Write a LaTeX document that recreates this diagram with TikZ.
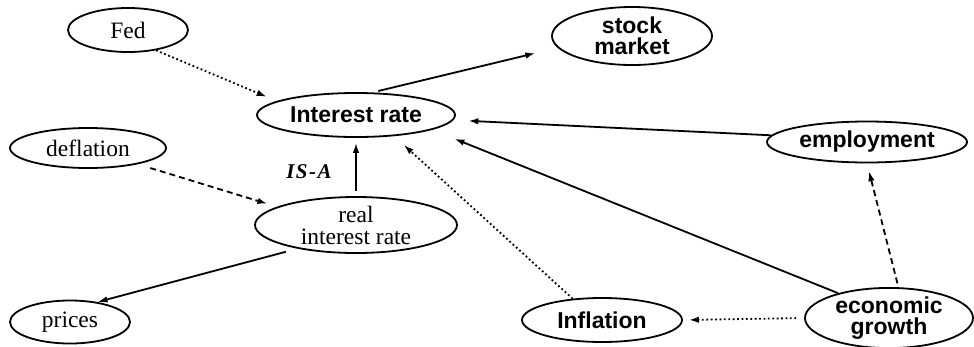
\documentclass[tikz,border=0pt]{standalone}
\usepackage{fontspec}
\setmainfont{Liberation Serif}
\newfontfamily\hvfont{Liberation Sans}
\usetikzlibrary{shapes.geometric,arrows.meta}
\tikzset{
  base/.style={ellipse, draw, line width=1.8pt, inner sep=0pt, align=center},
  serifnode/.style={base, font=\fontsize{23.5}{22}\selectfont},
  sansnode/.style={base, font=\hvfont\bfseries\fontsize{23}{21}\selectfont},
  conn/.style={line width=1.8pt, -{Latex[length=10pt,width=6.5pt]}},
  dotline/.style={conn, dash pattern=on 1.8pt off 2.6pt},
  dashline/.style={conn, dash pattern=on 6pt off 4pt},
}
\begin{document}
\begin{tikzpicture}[x=1pt,y=-1pt]
\useasboundingbox (0,0) rectangle (974,346);
\node[serifnode, minimum width=120pt, minimum height=44pt] (fed) at (128,30) {Fed};
\node[sansnode, minimum width=198pt, minimum height=44pt] (ir) at (356,115) {Interest rate};
\node[serifnode, minimum width=156pt, minimum height=40pt] (defl) at (88,148) {deflation};
\node[sansnode, minimum width=160pt, minimum height=58pt] (sm) at (632,36) {stock\\market};
\node[sansnode, minimum width=200pt, minimum height=41pt] (emp) at (867,142) {employment};
\node[serifnode, minimum width=202pt, minimum height=56pt] (rir) at (356,225) {real\\interest rate};
\node[serifnode, minimum width=120pt, minimum height=43pt] (prices) at (70,322) {prices};
\node[sansnode, minimum width=160pt, minimum height=44pt] (infl) at (602,320) {Inflation};
\node[sansnode, minimum width=168pt, minimum height=53pt] (eg) at (889,318) {economic\\growth};
\node[font=\itshape\bfseries\fontsize{21}{21}\selectfont] (isa) at (309,172) {I\kern1.5pt S\kern1.5pt -\kern1.5pt A};

\draw[dotline, shorten >=11pt] (fed.-36) -- (ir.170);
\draw[conn, shorten <=6pt, shorten >=23pt] (ir.54) -- (sm.189);
\draw[conn, shorten >=15pt] (emp.176) -- (ir.-3);
\draw[conn, shorten >=24pt] (eg.154) -- (ir.-11);
\draw[dotline, shorten >=13pt] (infl.144) -- (ir.-29);
\draw[conn, shorten <=5pt, shorten >=5pt] (rir.north) -- (ir.south);
\draw[dashline, shorten <=13pt, shorten >=10pt] (defl.-18) -- (rir.167);
\draw[conn, shorten <=12pt] (rir.202) -- (prices.36);
\draw[dotline, shorten <=8pt, shorten >=6pt] (eg.west) -- (infl.east);
\draw[dashline, shorten <=4pt, shorten >=8pt] (eg.73) -- (emp.south);
\end{tikzpicture}
\end{document}
